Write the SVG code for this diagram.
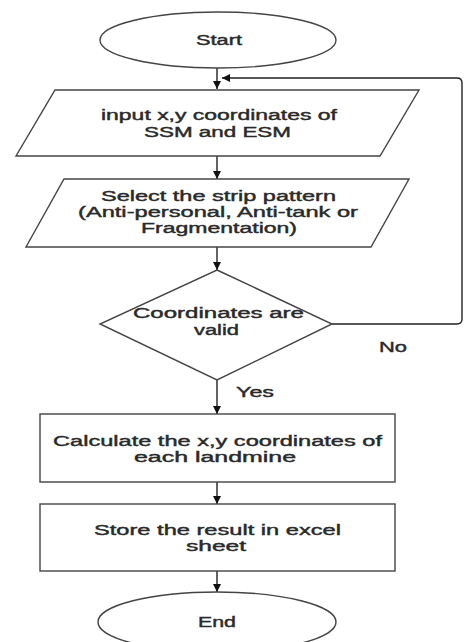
<svg xmlns="http://www.w3.org/2000/svg" width="464" height="642" viewBox="0 0 464 642">
  <defs>
    <marker id="arrow" markerUnits="userSpaceOnUse" markerWidth="9" markerHeight="9" refX="8" refY="4" orient="auto">
      <path d="M0,0 L8,4 L0,8 z" fill="#111"/>
    </marker>
    <style>
      .shape { fill: #fff; stroke: #444; stroke-width: 1.4; }
      .conn { fill: none; stroke: #222; stroke-width: 1.4; }
      .flow { marker-end: url(#arrow); }
      text { font-family: "Liberation Sans", Arial, sans-serif; font-size: 14px; fill: #2a2a2a; stroke: #2a2a2a; stroke-width: 0.4; }
    </style>
  </defs>
  <rect width="464" height="642" fill="#fff"/>

  <!-- connectors -->
  <g id="connectors">
    <line class="conn flow" x1="217" y1="68" x2="217" y2="89"/>
    <line class="conn flow" x1="217" y1="156" x2="217" y2="179"/>
    <line class="conn flow" x1="217" y1="247" x2="217" y2="270"/>
    <line class="conn flow" x1="217" y1="380" x2="217" y2="414"/>
    <line class="conn flow" x1="217" y1="482" x2="217" y2="504"/>
    <line class="conn flow" x1="217" y1="571" x2="217" y2="592"/>
    <!-- "No" branch loops back to the input step -->
    <path class="conn flow" d="M332,324 H457 Q462,324 462,319 V83 Q462,78 457,78 H222"/>
    <text x="379" y="352" textLength="28" lengthAdjust="spacingAndGlyphs">No</text>
    <text x="236" y="397" textLength="38" lengthAdjust="spacingAndGlyphs">Yes</text>
  </g>

  <g id="start">
    <ellipse class="shape" cx="218" cy="40" rx="118" ry="28"/>
    <text x="196" y="45" textLength="46" lengthAdjust="spacingAndGlyphs">Start</text>
  </g>

  <g id="input">
    <polygon class="shape" points="55,90 419,90 380,156 16,156"/>
    <text x="101" y="120" textLength="236" lengthAdjust="spacingAndGlyphs">input x,y coordinates of</text>
    <text x="144" y="137" textLength="147" lengthAdjust="spacingAndGlyphs">SSM and ESM</text>
  </g>

  <g id="select">
    <polygon class="shape" points="64,179 409,179 371,247 26,247"/>
    <text x="101" y="201" textLength="235" lengthAdjust="spacingAndGlyphs">Select the strip pattern</text>
    <text x="78" y="217" textLength="280" lengthAdjust="spacingAndGlyphs">(Anti-personal, Anti-tank or</text>
    <text x="141" y="233" textLength="156" lengthAdjust="spacingAndGlyphs">Fragmentation)</text>
  </g>

  <g id="check">
    <polygon class="shape" points="217,270 332,324 217,380 100,324"/>
    <text x="133" y="318" textLength="171" lengthAdjust="spacingAndGlyphs">Coordinates are</text>
    <text x="194" y="335" textLength="45" lengthAdjust="spacingAndGlyphs">valid</text>
  </g>

  <g id="calculate">
    <rect class="shape" x="40" y="414" width="355" height="68"/>
    <text x="53" y="446" textLength="329" lengthAdjust="spacingAndGlyphs">Calculate the x,y coordinates of</text>
    <text x="134" y="462" textLength="162" lengthAdjust="spacingAndGlyphs">each landmine</text>
  </g>

  <g id="store">
    <rect class="shape" x="40" y="504" width="355" height="67"/>
    <text x="94" y="535" textLength="247" lengthAdjust="spacingAndGlyphs">Store the result in excel</text>
    <text x="186" y="551" textLength="60" lengthAdjust="spacingAndGlyphs">sheet</text>
  </g>

  <g id="end">
    <ellipse class="shape" cx="217" cy="622" rx="119" ry="30"/>
    <text x="198" y="627" textLength="38" lengthAdjust="spacingAndGlyphs">End</text>
  </g>
</svg>
